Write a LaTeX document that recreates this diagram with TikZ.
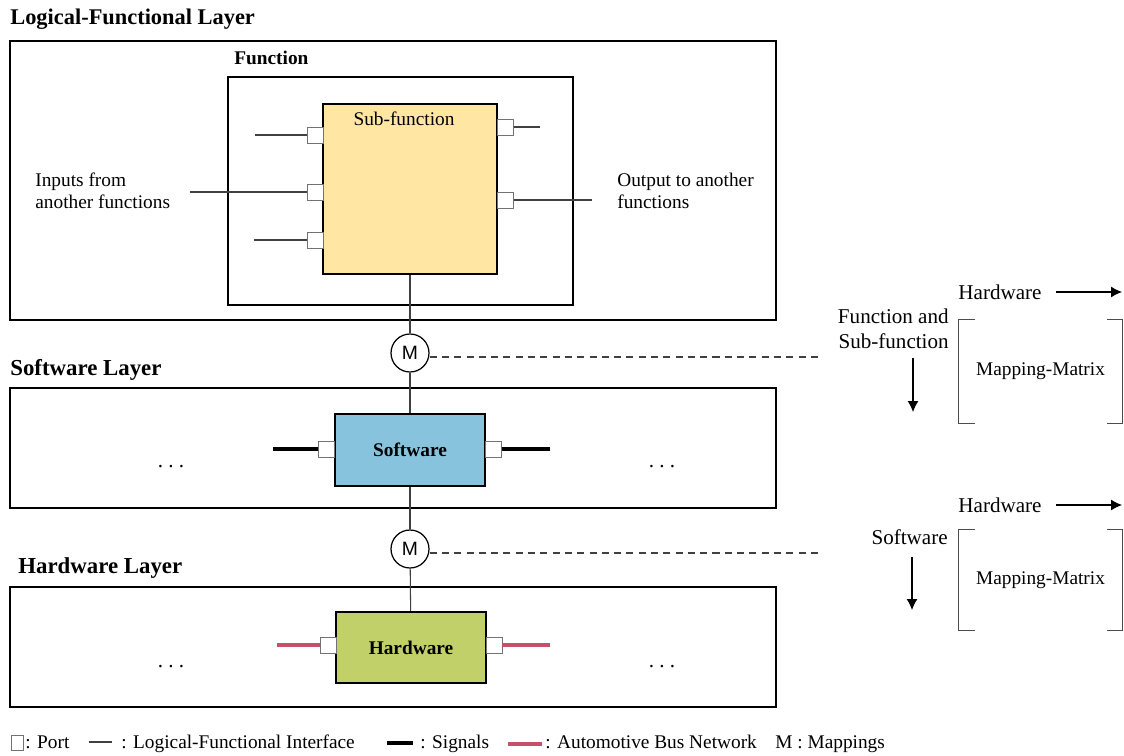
\documentclass[tikz,border=0pt]{standalone}
\usepackage{fontspec}
\setmainfont{Liberation Serif}
\newfontfamily\mapfont{Liberation Sans}
\usetikzlibrary{arrows.meta}
\definecolor{subfill}{HTML}{FFE6A3}
\definecolor{swfill}{HTML}{87C3DD}
\definecolor{hwfill}{HTML}{C2D069}
\definecolor{busred}{HTML}{C6506A}

\begin{document}
\begin{tikzpicture}[x=0.02cm,y=-0.02cm]
  \tikzset{layerbox/.style={draw, line width=1.1pt, minimum width=15.32cm, inner sep=0pt},
    blockbox/.style={draw, line width=1.1pt, inner sep=0pt},
    port/.style={draw=black!55, fill=white, line width=0.5pt, minimum size=0.32cm, inner sep=0pt},
    iface/.style={black!75, line width=0.6pt},
    signal/.style={black, line width=2.4pt},
    bus/.style={busred, line width=2.4pt},
    mapping/.style={draw, circle, line width=0.7pt, minimum size=0.76cm, inner sep=0pt, font=\mapfont\fontsize{11}{13}\selectfont},
    title/.style={anchor=west, inner sep=0pt, font=\bfseries\fontsize{13}{15}\selectfont},
    label/.style={inner sep=0pt, font=\fontsize{12}{12.5}\selectfont},
    legend/.style={anchor=base west, inner sep=0pt, font=\fontsize{11}{12}\selectfont},
    mtx/.style={minimum width=3.26cm, inner sep=0pt, font=\fontsize{11}{13}\selectfont},
    arrow/.style={-{Latex[length=0.22cm,width=0.22cm]}, line width=0.6pt}}
  \useasboundingbox (0,0) rectangle (1124,756);
  % layers
  \node[title, font=\bfseries\fontsize{12.75}{15}\selectfont] (lflt) at (10,19) {Logical-Functional Layer};
  \node[layerbox, minimum height=5.58cm] (lfl) at (393,180.5) {};
  \node[title, font=\bfseries\fontsize{11}{14}\selectfont] (funt) at (234,58) {Function};
  \node[blockbox, minimum width=6.9cm, minimum height=4.56cm] (fun) at (400.5,191) {};
  \node[blockbox, fill=subfill, minimum width=3.48cm, minimum height=3.4cm] (sub) at (410,189) {};
  \node[label, font=\fontsize{11}{13}\selectfont] (subt) at (404,119) {Sub-function};
  \node[title] (slt) at (10,370) {Software Layer};
  \node[layerbox, minimum height=2.4cm] (sl) at (393,448) {};
  \node[blockbox, fill=swfill, minimum width=3cm, minimum height=1.44cm, font=\bfseries\fontsize{11}{13}\selectfont] (sw) at (410,450) {Software};
  \node[title] (hlt) at (18,568) {Hardware Layer};
  \node[layerbox, minimum height=2.4cm] (hl) at (393,647) {};
  \node[blockbox, fill=hwfill, minimum width=3cm, minimum height=1.42cm, font=\bfseries\fontsize{11}{13}\selectfont] (hw) at (411,647.5) {Hardware};
  % ports of the sub-function
  \node[port] (pin1) at (315,135) {};
  \node[port] (pin2) at (315,192) {};
  \node[port] (pin3) at (315,240) {};
  \node[port] (pout1) at (505.5,127) {};
  \node[port] (pout2) at (505.5,200) {};
  \coordinate (in1) at (255,135);
  \coordinate (in2) at (190,192);
  \coordinate (in3) at (254,240);
  \coordinate (out1) at (540,127);
  \coordinate (out2) at (592,200);
  \draw[iface] (in1) -- (pin1);
  \draw[iface] (in2) -- (pin2);
  \draw[iface] (in3) -- (pin3);
  \draw[iface] (pout1) -- (out1);
  \draw[iface] (pout2) -- (out2);
  \node[label, anchor=west, align=left, font=\fontsize{11}{12.5}\selectfont] (inputs) at (35,191) {Inputs from\\another functions};
  \node[label, anchor=west, align=left, font=\fontsize{11}{12.5}\selectfont] (outputs) at (617,191) {Output to another\\functions};
  % ports of software and hardware
  \node[port] (swl) at (326.5,449) {};
  \node[port] (swr) at (493.5,449) {};
  \node[port] (hwl) at (328,645) {};
  \node[port] (hwr) at (494,645) {};
  \coordinate (sigl) at (273,449);
  \coordinate (sigr) at (550,449);
  \coordinate (busl) at (277,645);
  \coordinate (busr) at (550,645);
  \draw[signal] (sigl) -- (swl);
  \draw[signal] (swr) -- (sigr);
  \draw[bus] (busl) -- (hwl);
  \draw[bus] (hwr) -- (busr);
  \node[label, anchor=base] (swdl) at (171,467) {.\ .\ .};
  \node[label, anchor=base] (swdr) at (662,467) {.\ .\ .};
  \node[label, anchor=base] (hwdl) at (171,667) {.\ .\ .};
  \node[label, anchor=base] (hwdr) at (662,667) {.\ .\ .};
  % mappings
  \node[mapping, fill=white] (m1) at (410,353) {M};
  \node[mapping, fill=white] (m2) at (410,549) {M};
  \draw[iface] (sub) -- (m1);
  \draw[iface] (m1) -- (sw);
  \draw[iface] (sw) -- (m2);
  \draw[iface] (m2) -- (hw);
  \coordinate (d1) at (820,357);
  \coordinate (d2) at (820,553);
  \draw[iface, dashed, dash pattern=on 4pt off 3pt] (m1.east |- d1) -- (d1);
  \draw[iface, dashed, dash pattern=on 4pt off 3pt] (m2.east |- d2) -- (d2);
  % mapping matrices
  \node[label] (hw1) at (1000,292) {Hardware};
  \coordinate (h1) at (1122,292);
  \draw[arrow] ([xshift=0.28cm]hw1.east) -- (h1);
  \node[label, anchor=east, align=right, font=\fontsize{12}{14}\selectfont] (fs) at (949,329) {Function and\\Sub-function};
  \coordinate (v1s) at (913,358);
  \coordinate (v1e) at (913,412);
  \draw[arrow] (v1s) -- (v1e);
  \node[mtx, minimum height=2.06cm] (mm1) at (1040.5,371.5) {Mapping-Matrix};
  \draw[black!70, line width=0.5pt] ([xshift=0.32cm]mm1.north west) -- (mm1.north west) -- (mm1.south west) -- ([xshift=0.32cm]mm1.south west);
  \draw[black!70, line width=0.5pt] ([xshift=-0.3cm]mm1.north east) -- (mm1.north east) -- (mm1.south east) -- ([xshift=-0.3cm]mm1.south east);
  \node[label] (hw2) at (1000,505) {Hardware};
  \coordinate (h2) at (1122,505);
  \draw[arrow] ([xshift=0.28cm]hw2.east) -- (h2);
  \node[label, anchor=east] (sft) at (948,537) {Software};
  \coordinate (v2s) at (912,557);
  \coordinate (v2e) at (912,610);
  \draw[arrow] (v2s) -- (v2e);
  \node[mtx, minimum height=2cm] (mm2) at (1040.5,580) {Mapping-Matrix};
  \draw[black!70, line width=0.5pt] ([xshift=0.32cm]mm2.north west) -- (mm2.north west) -- (mm2.south west) -- ([xshift=0.32cm]mm2.south west);
  \draw[black!70, line width=0.5pt] ([xshift=-0.3cm]mm2.north east) -- (mm2.north east) -- (mm2.south east) -- ([xshift=-0.3cm]mm2.south east);
  % legend
  \node[port, minimum width=0.24cm, minimum height=0.3cm] (lgp) at (17,743) {};
  \node[legend] (lgpt) at (25,748) {: Port};
  \coordinate (lgia) at (89,742);
  \coordinate (lgib) at (112,742);
  \draw[iface] (lgia) -- (lgib);
  \node[legend] (lgit) at (121,748) {: Logical-Functional Interface};
  \coordinate (lgsa) at (387,743);
  \coordinate (lgsb) at (413,743);
  \draw[signal] (lgsa) -- (lgsb);
  \node[legend] (lgst) at (420,748) {: Signals};
  \coordinate (lgba) at (508,744);
  \coordinate (lgbb) at (542,744);
  \draw[bus] (lgba) -- (lgbb);
  \node[legend] (lgbt) at (545,748) {: Automotive Bus Network};
  \node[legend] (lgmt) at (775,748) {M : Mappings};
\end{tikzpicture}
\end{document}
